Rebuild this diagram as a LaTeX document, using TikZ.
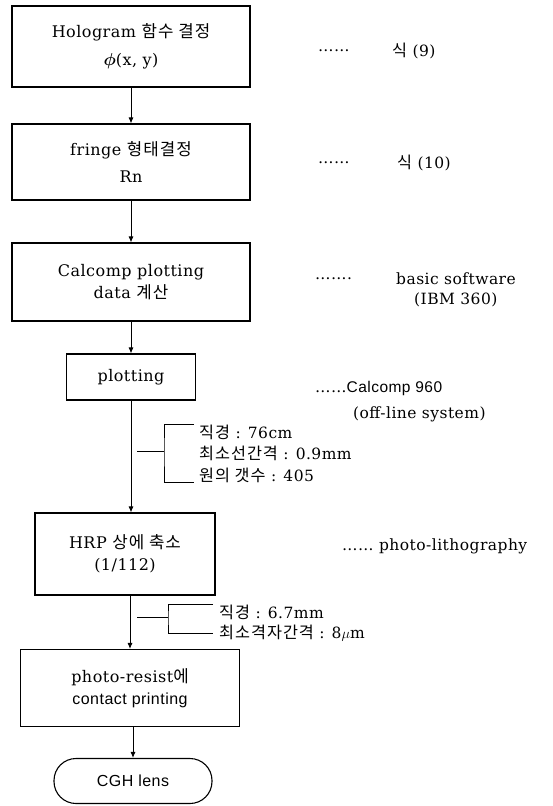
\documentclass[tikz,border=0pt]{standalone}
\usepackage{fontspec}
\usepackage{bm}
\usetikzlibrary{arrows.meta,positioning}
\setmainfont{DejaVu Serif}[LetterSpace=3]
\newfontfamily\kr{Noto Sans CJK KR}[Scale=1.05,LetterSpace=6]
\newfontfamily\gothic{Liberation Sans}[LetterSpace=3]

\tikzset{
  stage/.style={draw, line width=1.1pt, align=center, inner sep=0pt,
    font=\fontsize{16}{22}\selectfont},
  note/.style={anchor=west, inner sep=0pt, font=\fontsize{15.5}{18}\selectfont},
  flow/.style={line width=0.9pt, -{Latex[length=6pt,width=5pt]}},
  brace/.style={line width=1pt}
}

\begin{document}
\begin{tikzpicture}[x=1pt, y=-1pt]
\useasboundingbox (0,0) rectangle (553,806);

% Flow boxes
\node[stage, minimum width=238pt, minimum height=81pt] (holo) at (131,46.5)
  {Hologram {\kr 함수 결정}\\[6pt]$\bm{\phi}$(x, y)};
\node[stage, minimum width=238pt, minimum height=76pt] (fringe) at (131,162)
  {fringe {\kr 형태결정}\\[5pt]Rn};
\node[stage, minimum width=238pt, minimum height=78pt] (calc) at (131,282)
  {Calcomp plotting\\data {\kr 계산}};
\node[stage, minimum width=129pt, minimum height=46pt] (plot) at (131,377)
  {plotting};
\node[stage, minimum width=180pt, minimum height=82pt] (hrp) at (125,554)
  {HRP {\kr 상에 축소}\\(1/112)};
\node[stage, minimum width=219pt, minimum height=77pt] (resist) at (130,688)
  {photo-resist{\kr 에}\\{\gothic contact printing}};
\node[stage, rounded corners=22pt, minimum width=158pt, minimum height=45pt] (lens) at (133,781)
  {\gothic CGH lens};

% Arrows
\draw[flow] (holo) -- (fringe);
\draw[flow] (fringe) -- (calc);
\draw[flow] (calc) -- (plot);
\draw[flow] (plot.south) -- (plot.south |- hrp.north);
\draw[flow] (hrp.south -| resist.north) -- (resist.north);
\draw[flow] (resist.south -| lens.north) -- (lens.north);

% Plotter data
\node[note] (d1) at (199,432) {{\kr 직경} : 76cm};
\node[note] (d2) at (199,453) {{\kr 최소선간격} : 0.9mm};
\node[note] (d3) at (199,475) {{\kr 원의 갯수} : 405};
\coordinate (s1) at (137,451);
\coordinate (j1) at (164,451);
\draw[brace] (s1) -- (j1);
\draw[brace] ([xshift=-5pt]d1.north west) -| (j1) |- ([xshift=-5pt]d3.south west);

% Reduction data
\node[note] (e1) at (219,612) {{\kr 직경} : 6.7mm};
\node[note] (e2) at (219,633) {{\kr 최소격자간격} : 8$\mu$m};
\coordinate (s2) at (137,617);
\coordinate (j2) at (168,617);
\draw[brace] (s2) -- (j2);
\draw[brace] ([xshift=-6pt]e1.north west) -| (j2) |- ([xshift=-6pt]e2.west);

% Remarks
\node[note] (dot1) at (318,51) {\ldots\ldots};
\node[note] (eq9) at (392,51) {{\kr 식} (9)};
\node[note] (dot2) at (318,163) {\ldots\ldots};
\node[note] (eq10) at (397,163) {{\kr 식} (10)};
\node[note] (dot3) at (315,279) {\ldots\ldots.};
\node[note] (soft) at (396,279) {basic software};
\node[note] (ibm) at (414,300) {(IBM 360)};
\node[note] (cal) at (315,388) {\ldots\ldots{\gothic Calcomp 960}};
\node[note] (offl) at (353,414) {(off-line system)};
\node[note] (litho) at (342,546) {\ldots\ldots\ photo-lithography};

\end{tikzpicture}
\end{document}
